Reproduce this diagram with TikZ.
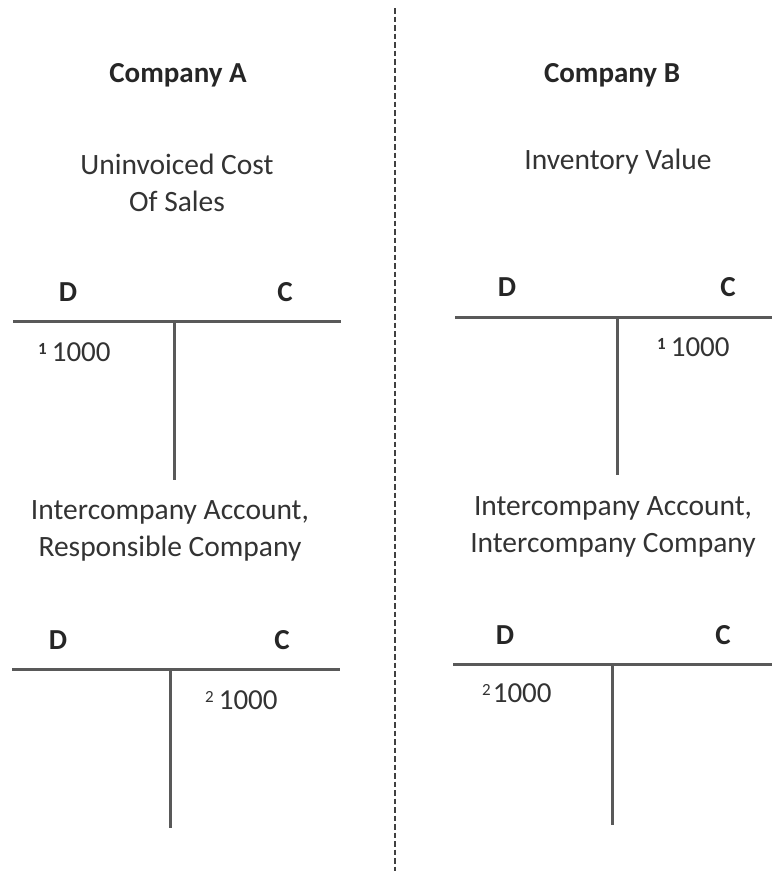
\documentclass[tikz,border=0pt]{standalone}
\usepackage{fontspec}
\setmainfont{Carlito}
\begin{document}
\begin{tikzpicture}[x=1pt, y=-1pt,
        head/.style = {font=\fontsize{29}{35}\selectfont\bfseries, text=black!85, inner sep=0},
        title/.style = {font=\fontsize{29.5}{37}\selectfont, text=black!80, align=center, inner sep=0},
        entry/.style = {font=\fontsize{29}{35}\selectfont, text=black!80, inner sep=0, anchor=base west},
        tline/.style = {draw=black!65, line width=3pt}]
        
            \useasboundingbox (0,0) rectangle (772,871);
            \draw[black!75, line width=2.5pt, dash pattern=on 5.5pt off 3pt] (395,8) -- (395,871);
        
            % company A
            \node[head] (compA) at (178,75) {Company A};
            \node[title] (acc1) at (177,183) {Uninvoiced Cost\\Of Sales};
            \node[head] (d1) at (68,292) {D};
            \node[head] (c1) at (285,292) {C};
            \draw[tline] (13,321) -- (341,321);
            \draw[tline] (174,321) -- (174,480);
            \node[entry] (e1) at (38,361) {\raisebox{7pt}{\fontsize{17}{17}\selectfont\bfseries 1}\hspace{5pt}1000};
        
            \node[title] (acc2) at (170,531) {Intercompany Account,\\Responsible Company};
            \node[head] (d2) at (58,640) {D};
            \node[head] (c2) at (282,640) {C};
            \draw[tline] (12,669) -- (340,669);
            \draw[tline] (170,669) -- (170,828);
            \node[entry] (e2) at (205,709) {\raisebox{7pt}{\fontsize{17}{17}\selectfont 2}\hspace{5pt}1000};
        
            % company B
            \node[head] (compB) at (612,75) {Company B};
            \node[title] (acc3) at (618,162) {Inventory Value};
            \node[head] (d3) at (507,287) {D};
            \node[head] (c3) at (728,287) {C};
            \draw[tline] (455,317) -- (772,317);
            \draw[tline] (617,317) -- (617,475);
            \node[entry] (e3) at (657,356) {\raisebox{7pt}{\fontsize{17}{17}\selectfont\bfseries 1}\hspace{5pt}1000};
        
            \node[title] (acc4) at (613,527) {Intercompany Account,\\Intercompany Company};
            \node[head] (d4) at (505,635) {D};
            \node[head] (c4) at (723,635) {C};
            \draw[tline] (453,664) -- (772,664);
            \draw[tline] (612,664) -- (612,825);
            \node[entry] (e4) at (482,702) {\raisebox{7pt}{\fontsize{17}{17}\selectfont 2}\hspace{2pt}1000};
        \end{tikzpicture}
\end{document}
